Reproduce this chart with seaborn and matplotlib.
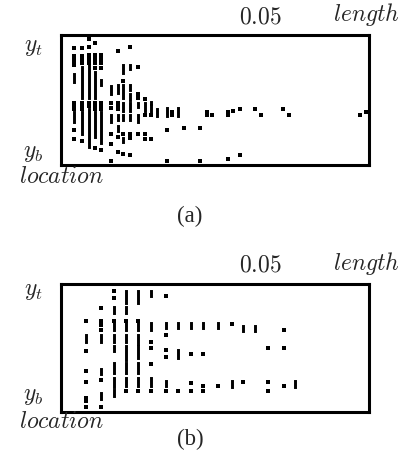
import matplotlib
matplotlib.use("Agg")

import pandas as pd
import matplotlib.pyplot as plt
import seaborn as sns

# column positions along "length"; each run is a single dot (number) or a bar (lo, hi)
top_cols = [0.0033, 0.0053, 0.0070, 0.0086, 0.0100, 0.0126, 0.0142, 0.0156, 0.0173,
            0.0194, 0.0210, 0.0227, 0.0242, 0.0265, 0.0279, 0.0295, 0.0309, 0.0349,
            0.0366, 0.0380, 0.0419, 0.0433, 0.0450, 0.0488, 0.0503, 0.0557, 0.0573,
            0.0751, 0.0766]
top_runs = [
    [0.90, 0.84, 0.815, 0.79, 0.77, (0.64, 0.70), 0.48, 0.455, 0.43, (0.33, 0.41), 0.27, 0.20],
    [0.90, 0.84, 0.815, 0.79, (0.52, 0.76), 0.48, 0.455, 0.43, (0.24, 0.41), 0.19],
    [0.97, 0.91, 0.85, 0.82, 0.79, (0.52, 0.77), 0.48, 0.455, (0.14, 0.43)],
    [0.94, 0.85, 0.82, 0.79, 0.75, (0.52, 0.72), 0.48, 0.455, 0.43, (0.22, 0.41), 0.13],
    [0.85, 0.82, 0.79, 0.75, (0.62, 0.66), 0.48, 0.455, 0.43, (0.17, 0.41), 0.12],
    [(0.55, 0.61), 0.48, 0.44, (0.33, 0.39), 0.24, 0.16, 0.03],
    [0.88, (0.56, 0.62), 0.48, 0.455, 0.43, (0.35, 0.39), (0.26, 0.30), 0.22, 0.10],
    [(0.71, 0.77), 0.65, (0.52, 0.62), (0.42, 0.48), (0.35, 0.39), 0.24, (0.175, 0.21), 0.085],
    [0.91, (0.74, 0.77), (0.58, 0.62), (0.50, 0.55), (0.42, 0.48), (0.35, 0.39), 0.24, 0.21, 0.08],
    [0.76, 0.55, 0.52, (0.45, 0.48), (0.33, 0.39), 0.24],
    [0.51, (0.42, 0.48), 0.385, 0.24, 0.20],
    [(0.47, 0.49), (0.41, 0.46), 0.385, 0.20],
    [(0.38, 0.43)],
    [(0.38, 0.44), 0.27, 0.03],
    [0.41, 0.385],
    [(0.38, 0.44)],
    [0.29],
    [0.29, 0.03],
    [0.41, 0.385],
    [0.385],
    [0.41, 0.385, 0.05],
    [0.42],
    [0.43, 0.077],
    [0.43],
    [0.385],
    [0.43],
    [0.385],
    [0.385],
    [0.41],
]

bot_cols = [0.0063, 0.0101, 0.0134, 0.0164, 0.0194, 0.0227, 0.0263, 0.0294, 0.0326,
            0.0357, 0.0395, 0.0429, 0.0458, 0.0488, 0.0521, 0.0559, 0.0588]
bot_runs = [
    [0.71, (0.545, 0.60), 0.47, 0.32, 0.23, 0.11, 0.086, 0.035],
    [0.81, 0.71, 0.68, 0.64, (0.545, 0.60), (0.29, 0.33), 0.25, (0.10, 0.145), 0.035],
    [0.94, 0.89, (0.77, 0.82), 0.71, (0.64, 0.69), (0.545, 0.60), (0.47, 0.51), (0.30, 0.38), (0.19, 0.26), (0.125, 0.165)],
    [(0.845, 0.94), (0.77, 0.82), 0.71, (0.64, 0.69), (0.545, 0.60), (0.40, 0.51), (0.30, 0.38), (0.20, 0.26), 0.16],
    [(0.845, 0.94), 0.71, (0.64, 0.69), (0.53, 0.60), (0.42, 0.51), (0.30, 0.38), (0.20, 0.26), 0.16],
    [(0.90, 0.94), (0.64, 0.69), 0.545, 0.50, 0.375, (0.20, 0.26), 0.16],
    [0.90, (0.65, 0.69), 0.60, 0.48, 0.43, (0.20, 0.24), 0.16],
    [(0.65, 0.69), (0.42, 0.48), 0.16],
    [(0.65, 0.69), 0.45, 0.22, 0.16],
    [(0.655, 0.69), 0.45, 0.20, 0.16],
    [(0.655, 0.69), 0.20],
    [0.685, (0.195, 0.24)],
    [(0.63, 0.67), 0.23],
    [(0.63, 0.67)],
    [0.50, 0.23, 0.16],
    [0.64, 0.50, 0.20],
    [(0.195, 0.24)],
]

X_MAX = 0.0774
tick_vals = [0.05]
tick_labels = [r"$0.05$"]

sns.set_style("white")
plt.rcParams["mathtext.fontset"] = "cm"

FS = 17


def build_frames(cols, runs):
    bars, dots = [], []
    seg = 0
    for x, col in zip(cols, runs):
        for r in col:
            if isinstance(r, tuple):
                bars.append({"length": x, "location": r[0], "seg": seg})
                bars.append({"length": x, "location": r[1], "seg": seg})
                seg += 1
            else:
                dots.append({"length": x, "location": r})
    return pd.DataFrame(bars), pd.DataFrame(dots)


def draw_panel(ax, cols, runs, label_y):
    bars, dots = build_frames(cols, runs)
    sns.lineplot(data=bars, x="length", y="location", units="seg", estimator=None,
                 sort=False, color="black", lw=2.1, solid_capstyle="projecting",
                 legend=False, ax=ax)
    sns.scatterplot(data=dots, x="length", y="location", marker="s", s=5.5,
                    color="black", linewidth=0, legend=False, ax=ax)
    ax.set_xlim(0, X_MAX)
    ax.set_ylim(0, 1)
    ax.set_xlabel("")
    ax.set_ylabel("")
    ax.set_yticks([])
    ax.set_xticks(tick_vals)
    ax.set_xticklabels(tick_labels)
    ax.xaxis.tick_top()
    ax.tick_params(axis="x", length=0, labelsize=FS, pad=5)
    for sp in ax.spines.values():
        sp.set_visible(True)
        sp.set_color("black")
        sp.set_linewidth(2.2)
    ax.text(0.99, label_y["length"], r"$length$", transform=ax.transAxes,
            ha="center", va="center", fontsize=FS)
    ax.text(-0.09, label_y["yt"], r"$y_t$", transform=ax.transAxes,
            ha="center", va="center", fontsize=FS)
    ax.text(-0.09, label_y["yb"], r"$y_b$", transform=ax.transAxes,
            ha="center", va="center", fontsize=FS)
    ax.text(-0.0, label_y["loc"], r"$location$", transform=ax.transAxes,
            ha="center", va="center", fontsize=FS)


fig = plt.figure(figsize=(4.07, 4.72), dpi=100)
ax_a = fig.add_axes([0.150, 0.650, 0.757, 0.275])
ax_b = fig.add_axes([0.150, 0.128, 0.757, 0.271])

draw_panel(ax_a, top_cols, top_runs, {"length": 1.16, "yt": 0.92, "yb": 0.10, "loc": -0.08})
draw_panel(ax_b, bot_cols, bot_runs, {"length": 1.16, "yt": 0.95, "yb": 0.13, "loc": -0.07})

fig.text(0.467, 1 - 216 / 472, "(a)", ha="center", va="center",
         fontsize=16.5, family="Liberation Serif")
fig.text(0.467, 1 - 439 / 472, "(b)", ha="center", va="center",
         fontsize=16.5, family="Liberation Serif")

fig.savefig("out.png", dpi=100)
plt.close(fig)
